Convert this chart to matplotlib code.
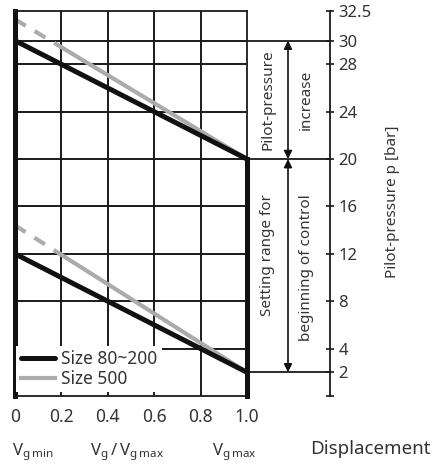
import matplotlib
matplotlib.use("Agg")
import matplotlib.pyplot as plt

plt.rcParams['font.family'] = ['Noto Sans', 'DejaVu Sans']
plt.rcParams['mathtext.fontset'] = 'custom'
plt.rcParams['mathtext.rm'] = 'Noto Sans'

# Data
x_ratio = [0.0, 1.0]
size_80_200_upper = [30.0, 20.0]
size_80_200_lower = [12.0, 2.0]
size_500_upper_x = [0.0, 0.2, 1.0]
size_500_upper = [31.8, 29.44, 20.0]
size_500_lower_x = [0.0, 0.2, 1.0]
size_500_lower = [14.4, 11.92, 2.0]
x_ticks = [0, 0.2, 0.4, 0.6, 0.8, 1.0]
x_ticklabels = ['0', '0.2', '0.4', '0.6', '0.8', '1.0']
grid_y = [4, 8, 12, 16, 20, 24, 28, 30]
right_ticks = [0, 2, 4, 8, 12, 16, 20, 24, 28, 30, 32.5]
right_ticklabels = ['', '2', '4', '8', '12', '16', '20', '24', '28', '30', '32.5']
marker_levels = [30, 20, 2]

W, H = 437, 465
fig = plt.figure(figsize=(W / 100, H / 100), dpi=100)
left, right, top, bottom = 15, 247, 11, 396
ax = fig.add_axes([left / W, 1 - bottom / H, (right - left) / W, (bottom - top) / H])
ax.set_xlim(0, 1)
ax.set_ylim(0, 32.5)

grid_c = '#1a1a1a'
for gx in x_ticks[1:-1]:
    ax.axvline(gx, color=grid_c, lw=1.4, zorder=1)
for gy in grid_y:
    ax.axhline(gy, color=grid_c, lw=1.4, zorder=1)

gray = '#ababab'
ax.plot(size_500_upper_x[:2], size_500_upper[:2], color=gray, lw=3, ls=(0, (3, 2.5)), zorder=2)
ax.plot(size_500_upper_x[1:], size_500_upper[1:], color=gray, lw=3, zorder=2)
ax.plot(size_500_lower_x[:2], size_500_lower[:2], color=gray, lw=3, ls=(0, (3, 2.5)), zorder=2)
l2, = ax.plot(size_500_lower_x[1:], size_500_lower[1:], color=gray, lw=3, zorder=2, label='Size 500')
ax.plot(x_ratio, size_80_200_upper, color='#111111', lw=3.6, zorder=3, solid_capstyle='round')
l1, = ax.plot(x_ratio, size_80_200_lower, color='#111111', lw=3.6, zorder=3, label='Size 80~200',
              solid_capstyle='round')
# thick right edge from 0 up to 20 bar
ax.plot([1, 1], [0, size_80_200_upper[1]], color='#111111', lw=3.6, zorder=3, clip_on=False)

for s in ['top', 'bottom', 'right']:
    ax.spines[s].set_linewidth(1.3)
    ax.spines[s].set_color(grid_c)
ax.spines['left'].set_linewidth(3.6)
ax.spines['left'].set_color('#111111')

ax.set_xticks(x_ticks)
ax.set_xticklabels(x_ticklabels, fontsize=12.5, color='#333333')
ax.tick_params(axis='x', length=0, pad=9)
ax.set_yticks([])

leg = ax.legend(handles=[l1, l2], loc='lower left', bbox_to_anchor=(0.005, 0.01),
                frameon=True, fontsize=12.5, handlelength=2.0, handletextpad=0.35,
                borderpad=0.25, labelspacing=0.1, borderaxespad=0.0, fancybox=False)
leg.get_frame().set_edgecolor('none')
leg.get_frame().set_facecolor('white')
leg.get_frame().set_alpha(1)
for t in leg.get_texts():
    t.set_color('#333333')

# right pressure axis
axis_x = (330 - left) / (right - left)
ax2 = ax.twinx()
ax2.set_ylim(0, 32.5)
for s in ['top', 'bottom', 'left']:
    ax2.spines[s].set_visible(False)
ax2.spines['right'].set_position(('axes', axis_x))
ax2.spines['right'].set_linewidth(1.3)
ax2.spines['right'].set_color(grid_c)
ax2.set_yticks(right_ticks)
ax2.set_yticklabels(right_ticklabels, fontsize=12, color='#333333')
ax2.tick_params(axis='y', direction='inout', length=6, width=1.2, pad=3, color=grid_c)
ax2.set_ylabel('Pilot-pressure p [bar]', fontsize=11, color='#333333')
ax2.yaxis.set_label_coords((385 - left) / (right - left), (396 - 202) / 385)

for lv in marker_levels:
    ax.plot([1, axis_x], [lv, lv], color=grid_c, lw=1.3, clip_on=False, zorder=2)

arrow_x = (288 - left) / (right - left)
arrowprops = dict(arrowstyle='<|-|>', color='#111111', lw=1.2, mutation_scale=12,
                  shrinkA=0, shrinkB=0)
ax.annotate('', xy=(arrow_x, marker_levels[0]), xytext=(arrow_x, marker_levels[1]),
            arrowprops=arrowprops, annotation_clip=False)
ax.annotate('', xy=(arrow_x, marker_levels[1]), xytext=(arrow_x, marker_levels[2]),
            arrowprops=arrowprops, annotation_clip=False)

tx1 = (268 - left) / (right - left)
tx2 = (306 - left) / (right - left)
kw = dict(rotation=90, ha='center', va='center', fontsize=11, color='#333333', clip_on=False)
ax.text(tx1, 25.0, 'Pilot-pressure', **kw)
ax.text(tx2, 25.0, 'increase', **kw)
ax.text(tx1, 11.9, 'Setting range for', **kw)
ax.text(tx2, 10.8, 'beginning of control', **kw)

# bottom descriptive labels
yb = 1 - 452 / H
fig.text(12 / W, yb, r'$\mathregular{V_{g\,min}}$', fontsize=12, ha='left', va='center', color='#333333')
fig.text(127 / W, yb, r'$\mathregular{V_g\,/\,V_{g\,max}}$', fontsize=12, ha='center', va='center', color='#333333')
fig.text(234 / W, yb, r'$\mathregular{V_{g\,max}}$', fontsize=12, ha='center', va='center', color='#333333')
fig.text(370 / W, 1 - 449 / H, 'Displacement', fontsize=13.5, ha='center', va='center', color='#333333')

fig.savefig('out.png', dpi=100)
